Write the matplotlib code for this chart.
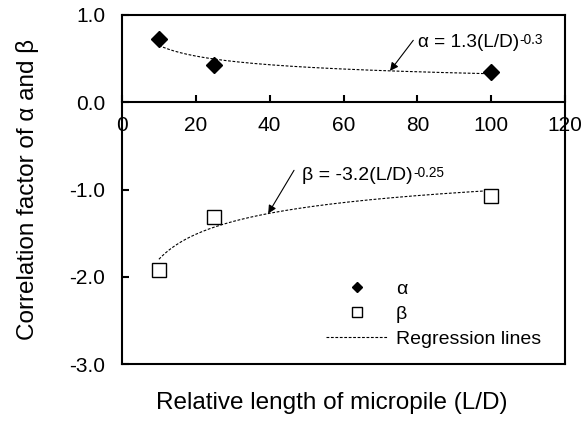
import numpy as np
import matplotlib.pyplot as plt

plt.rcParams['font.family'] = ['Liberation Sans', 'DejaVu Sans']

# measured correlation factors vs L/D
ld = [10, 25, 100]
alpha = [0.72, 0.43, 0.35]
beta = [-1.92, -1.32, -1.07]

# power-law fits: factor = a * (L/D)**b
alpha_fit = (1.3, -0.3)
beta_fit = (-3.2, -0.25)

xticks = [0, 20, 40, 60, 80, 100, 120]
yticks = [-3.0, -2.0, -1.0, 0.0, 1.0]

fig = plt.figure(figsize=(5.88, 4.21), dpi=100)
ax = fig.add_axes([122/588, 1 - 364/421, 443/588, 349/421])

xs = np.linspace(10, 100, 200)
ax.plot(xs, alpha_fit[0] * xs**alpha_fit[1], ls=(0, (2.5, 1.5)), color='k', lw=0.8,
        label='Regression lines')
ax.plot(xs, beta_fit[0] * xs**beta_fit[1], ls=(0, (2.5, 1.5)), color='k', lw=0.8)
ax.plot(ld, alpha, 'D', color='k', ms=8, ls='none', label='α')
ax.plot(ld, beta, 's', mfc='white', mec='k', mew=1.0, ms=10, ls='none', label='β')

ax.set_xlim(0, 120)
ax.set_ylim(-3, 1)
ax.set_xticks(xticks)
ax.set_yticks(yticks)
ax.set_yticklabels(['%.1f' % v for v in yticks])
ax.spines['bottom'].set_position(('data', 0))
for s in ax.spines.values():
    s.set_linewidth(1.5)
ax.tick_params(axis='x', direction='in', length=5, width=1.5, labelsize=15, pad=10)
ax.tick_params(axis='y', direction='in', length=5, width=1.5, labelsize=15, pad=12)

# closing frame at the bottom
ax.axhline(-3, color='k', lw=1.5, clip_on=False)

ax.set_ylabel('Correlation factor of α and β', fontsize=17.5, labelpad=22)
fig.text(332/588, 1 - 403/421, 'Relative length of micropile (L/D)', fontsize=17.5,
         ha='center', va='center')

# fit equations with arrows pointing at the curves
arrow = dict(arrowstyle='-|>', color='k', lw=0.8, shrinkA=0, shrinkB=0, mutation_scale=12)
xa = 72.6
xb = 39.6
ax.annotate('', xy=(xa, alpha_fit[0] * xa**alpha_fit[1]), xytext=(78.9, 0.71),
            arrowprops=arrow)
ax.annotate('', xy=(xb, beta_fit[0] * xb**beta_fit[1]), xytext=(46.6, -0.78),
            arrowprops=arrow)
ta = ax.text(80.2, 0.69, 'α = 1.3(L/D)', fontsize=13.7, va='center', ha='left')
tb = ax.text(48.8, -0.84, 'β = -3.2(L/D)', fontsize=14, va='center', ha='left')
fig.canvas.draw()
for t, sup in [(ta, '-0.3'), (tb, '-0.25')]:
    bb = t.get_window_extent()
    fig.text(bb.x1 + 0.5, bb.y1 - 6, sup, fontsize=9.8, ha='left', va='center',
             transform=None)

h, l = ax.get_legend_handles_labels()
ax.legend([h[1], h[2], h[0]], [l[1], l[2], l[0]], loc='lower right',
          bbox_to_anchor=(0.985, -0.005), frameon=False, fontsize=14,
          handlelength=3.2, markerscale=0.7, labelspacing=0.38, handletextpad=0.4)

fig.savefig('out.png', dpi=100)
